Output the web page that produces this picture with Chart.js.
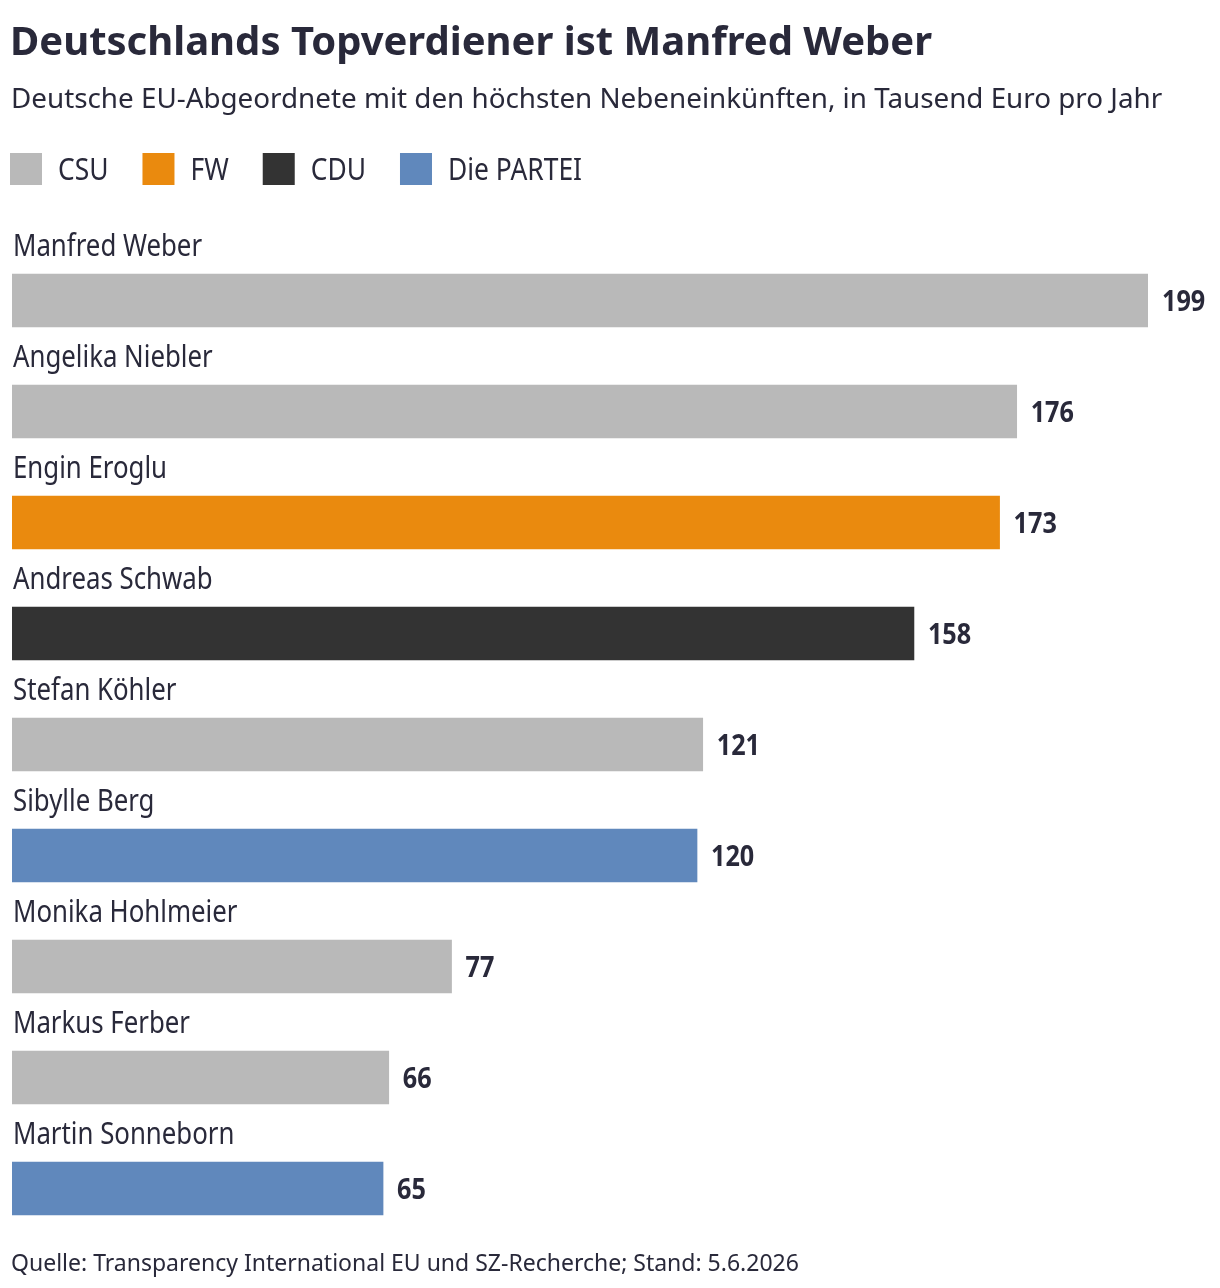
<!DOCTYPE html>
<html>
<head>
<meta charset="utf-8">
<script src="https://cdn.jsdelivr.net/npm/chart.js@4"></script>
<style>
  html, body { margin: 0; padding: 0; background: #fff; }
  body { width: 1220px; height: 1288px; position: relative; overflow: hidden; color: #29293a; }
  #chart { position: absolute; left: 0; top: 0; }
  .title { position: absolute; left: 10px; top: 12px; font: 700 40px "Noto Sans", sans-serif; white-space: nowrap; }
  .sub { position: absolute; left: 11px; top: 78px; font: 400 27.8px "Noto Sans", sans-serif; white-space: nowrap; }
  .foot { position: absolute; left: 11px; top: 1246px; font: 400 23px "Noto Sans", sans-serif; white-space: nowrap; }
</style>
</head>
<body>
<canvas id="chart" width="1220" height="1288"></canvas>
<div class="title">Deutschlands Topverdiener ist Manfred Weber</div>
<div class="sub">Deutsche EU-Abgeordnete mit den höchsten Nebeneinkünften, in Tausend Euro pro Jahr</div>
<div class="foot">Quelle: Transparency International EU und SZ-Recherche; Stand: 5.6.2026</div>
<script>
// ── Data ──────────────────────────────────────
const names = ['Manfred Weber', 'Angelika Niebler', 'Engin Eroglu', 'Andreas Schwab', 'Stefan Köhler',
  'Sibylle Berg', 'Monika Hohlmeier', 'Markus Ferber', 'Martin Sonneborn'];
const values = [199, 176, 173, 158, 121, 120, 77, 66, 65];
const parties = ['CSU', 'CSU', 'FW', 'CDU', 'CSU', 'Die PARTEI', 'CSU', 'CSU', 'Die PARTEI'];
const partyNames = ['CSU', 'FW', 'CDU', 'Die PARTEI'];
const partyColors = ['#b9b9b9', '#ea8a0e', '#333333', '#6088bc'];

const colorOf = p => partyColors[partyNames.indexOf(p)];
const TEXT = '#29293a';
const FONT = '"Noto Sans", sans-serif';

// no condensed face installed, so squeeze the text horizontally
function squeezed(ctx, text, x, y, sx) {
  ctx.save();
  ctx.translate(x, y);
  ctx.scale(sx, 1);
  ctx.fillText(text, 0, 0);
  ctx.restore();
  return ctx.measureText(text).width * sx;
}

// legend row + names above bars + values to the right
const barLabels = {
  id: 'barLabels',
  afterDatasetsDraw(chart) {
    const ctx = chart.ctx;
    const meta = chart.getDatasetMeta(0);
    ctx.save();
    ctx.textAlign = 'left';
    ctx.textBaseline = 'alphabetic';

    // legend
    let x = 10;
    ctx.font = '400 30px ' + FONT;
    partyNames.forEach((p, i) => {
      ctx.fillStyle = partyColors[i];
      ctx.fillRect(x, 153, 32, 32);
      ctx.fillStyle = TEXT;
      const w = squeezed(ctx, p, x + 48, 180, 0.88);
      x += 48 + w + 34;
    });

    meta.data.forEach((bar, i) => {
      const top = bar.y - bar.height / 2;
      ctx.fillStyle = TEXT;
      ctx.font = '400 30px ' + FONT;
      squeezed(ctx, names[i], chart.chartArea.left + 1, top - 18, 0.86);
      ctx.font = '700 28px ' + FONT;
      squeezed(ctx, String(values[i]), bar.x + 14, bar.y + 10, 0.9);
    });
    ctx.restore();
  }
};

new Chart(document.getElementById('chart'), {
  type: 'bar',
  data: {
    labels: names,
    datasets: [{
      data: values,
      backgroundColor: parties.map(colorOf),
      barThickness: 53,
      borderWidth: 0
    }]
  },
  options: {
    indexAxis: 'y',
    responsive: false,
    animation: false,
    layout: { padding: { top: 245, bottom: 44, left: 12, right: 72 } },
    plugins: { legend: { display: false }, tooltip: { enabled: false } },
    scales: {
      x: { display: false, min: 0, max: Math.max(...values) },
      y: { display: false }
    }
  },
  plugins: [barLabels]
});
</script>
</body>
</html>
